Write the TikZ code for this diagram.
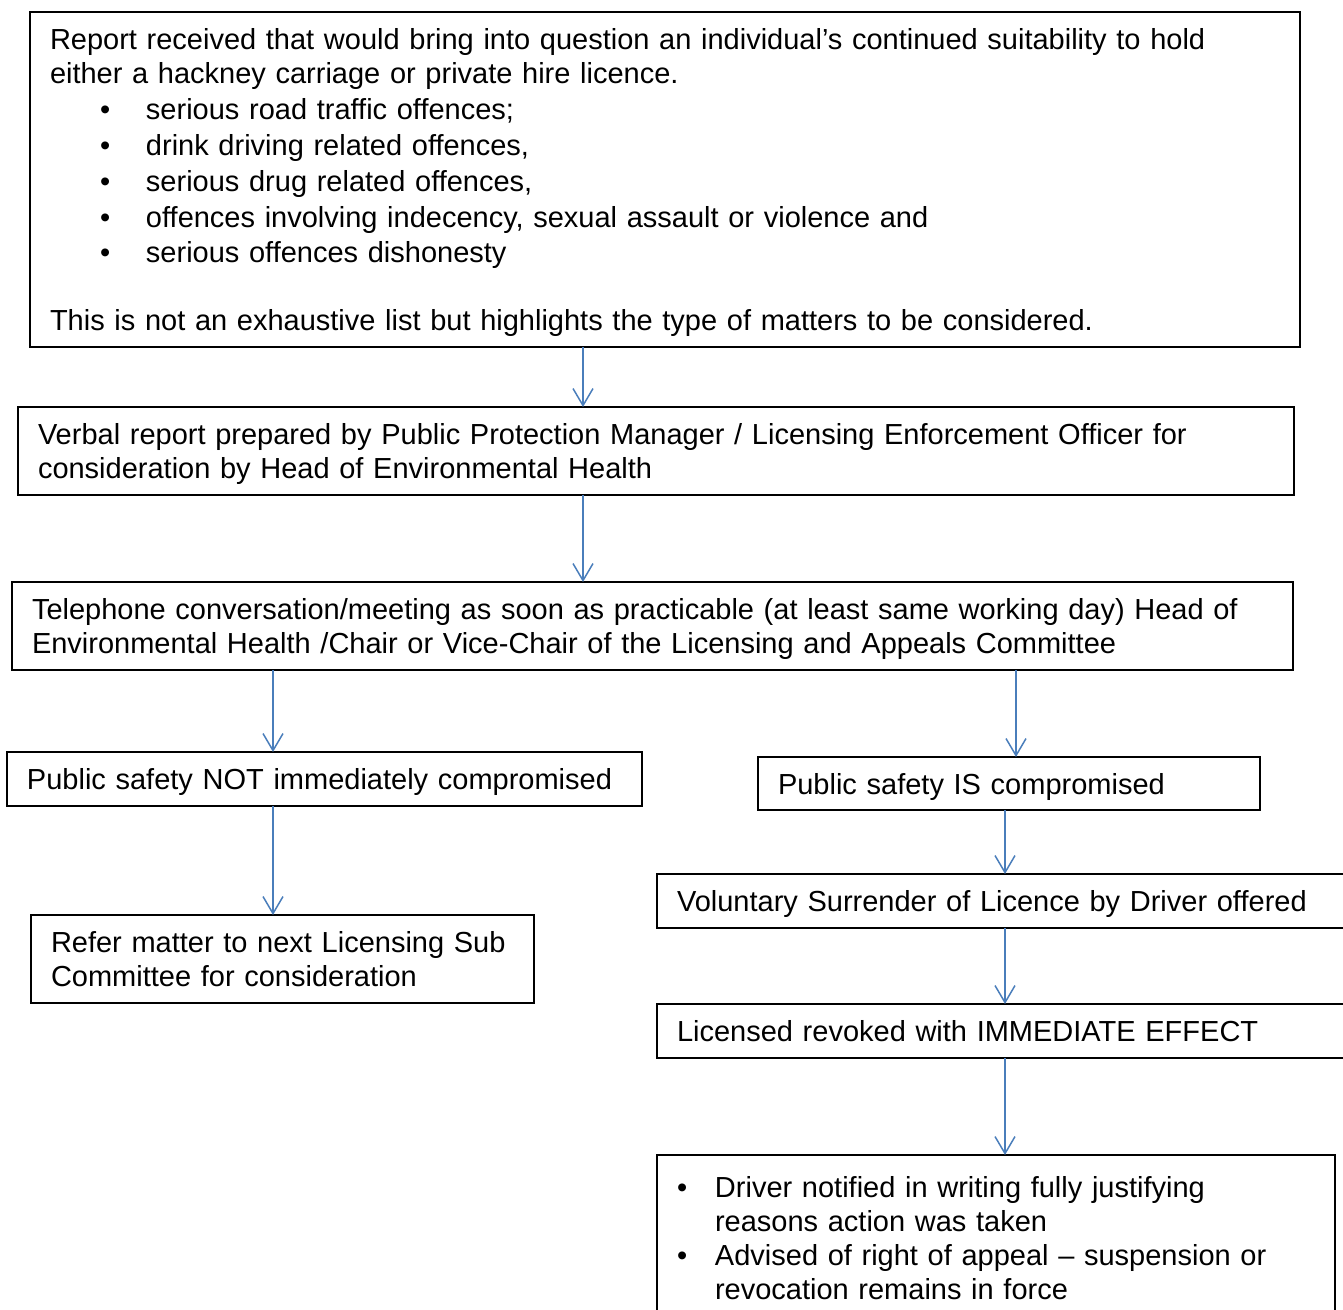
\documentclass[tikz,border=0pt]{standalone}
\usepackage{fontspec}
\setmainfont{Liberation Sans}
\usepackage{xcolor}
\definecolor{flowblue}{HTML}{4A7EBB}
\usetikzlibrary{arrows.meta}
\newcommand{\bul}[2]{\hspace*{#1}\makebox[#2][l]{\textbullet}}

\begin{document}
\begin{tikzpicture}[x=1pt, y=-1pt,
  every node/.style={font=\fontsize{29}{34}\selectfont},
  box/.style n args={2}{draw, line width=1.6pt, anchor=north west, align=left,
    inner xsep=20pt, inner ysep=0pt, outer sep=0pt, text width=#1, minimum height=#2,
    execute at begin node={\rule{0pt}{27pt}}, execute at end node={\rule[-6pt]{0pt}{6pt}}},
  flow/.style={-{Straight Barb[length=17pt,width=20pt]}, flowblue, line width=1.5pt}]
  \useasboundingbox (0,0) rectangle (1343,1309);

  % Report box
  \node[box={1230pt}{335pt}] (report) at (30,12) {Report received that would bring into question an individual’s continued suitability to hold\\
    either a hackney carriage or private hire licence.\\[2pt]
    \bul{50pt}{46pt}serious road traffic offences;\\[2pt]
    \bul{50pt}{46pt}drink driving related offences,\\[2pt]
    \bul{50pt}{46pt}serious drug related offences,\\[2pt]
    \bul{50pt}{46pt}offences involving indecency, sexual assault or violence and\\[1pt]
    \bul{50pt}{46pt}serious offences dishonesty\\
    ~\\
    This is not an exhaustive list but highlights the type of matters to be considered.};

  % Middle column
  \node[box={1236pt}{88pt}] (verbal) at (18,407) {Verbal report prepared by Public Protection Manager / Licensing Enforcement Officer for\\
    consideration by Head of Environmental Health};
  \node[box={1241pt}{88pt}] (phone) at (12,582) {Telephone conversation/meeting as soon as practicable (at least same working day) Head of\\
    Environmental Health /Chair or Vice-Chair of the Licensing and Appeals Committee};

  % Left branch
  \node[box={595pt}{54pt}] (notsafe) at (7,752) {Public safety NOT immediately compromised};
  \node[box={463pt}{88pt}] (refer) at (31,915) {Refer matter to next Licensing Sub\\
    Committee for consideration};

  % Right branch
  \node[box={462pt}{53pt}] (unsafe) at (758,757) {Public safety IS compromised};
  \node[box={660pt}{54pt}] (surrender) at (657,874) {Voluntary Surrender of Licence by Driver offered};
  \node[box={660pt}{54pt}] (revoked) at (657,1004) {Licensed revoked with IMMEDIATE EFFECT};
  \node[box={638pt}{165pt}] (notify) at (657,1155) {\bul{0pt}{38pt}Driver notified in writing fully justifying\\
    \hspace*{38pt}reasons action was taken\\
    \bul{0pt}{38pt}Advised of right of appeal – suspension or\\
    \hspace*{38pt}revocation remains in force};

  % Arrow columns
  \coordinate (midcol) at (583,0);
  \coordinate (leftcol) at (273,0);
  \coordinate (rightcol) at (1016,0);
  \coordinate (lastcol) at (1005,0);

  \draw[flow] (report.south -| midcol) -- (verbal.north -| midcol);
  \draw[flow] (verbal.south -| midcol) -- (phone.north -| midcol);
  \draw[flow] (phone.south -| leftcol) -- (notsafe.north -| leftcol);
  \draw[flow] (phone.south -| rightcol) -- (unsafe.north -| rightcol);
  \draw[flow] (notsafe.south -| leftcol) -- (refer.north -| leftcol);
  \draw[flow] (unsafe.south -| lastcol) -- (surrender.north -| lastcol);
  \draw[flow] (surrender.south -| lastcol) -- (revoked.north -| lastcol);
  \draw[flow] (revoked.south -| lastcol) -- (notify.north -| lastcol);
\end{tikzpicture}
\end{document}
